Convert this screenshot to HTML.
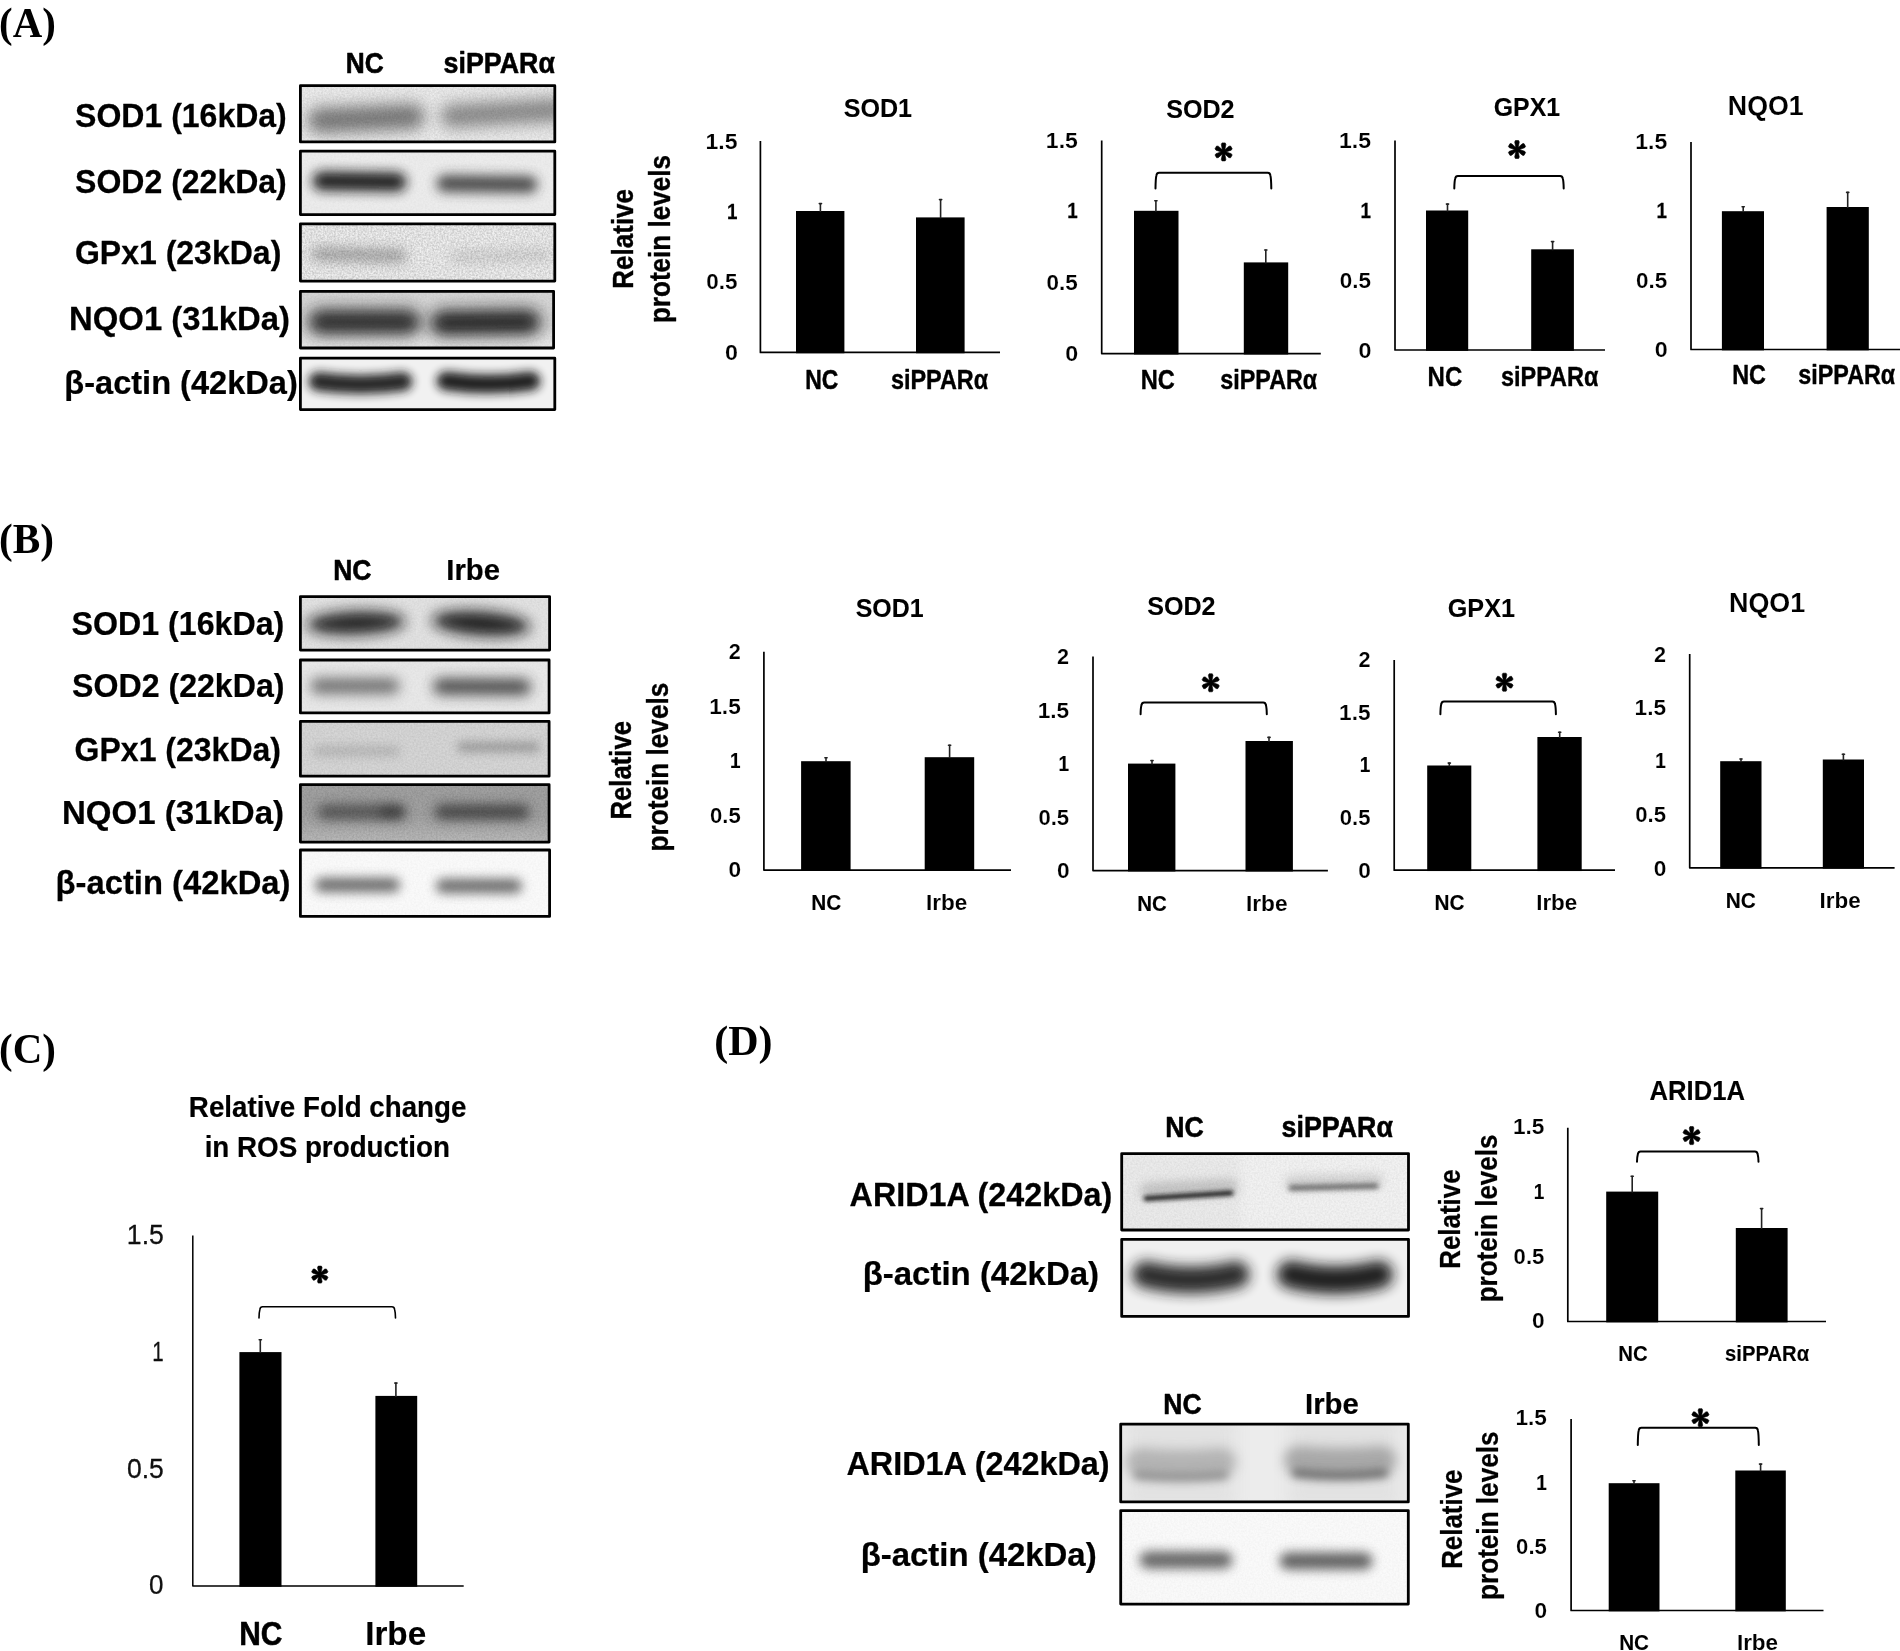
<!DOCTYPE html>
<html><head><meta charset="utf-8"><title>Figure</title>
<style>html,body{margin:0;padding:0;background:#fff;}svg{display:block;will-change:transform;}</style>
</head><body>
<svg width="1900" height="1651" viewBox="0 0 1900 1651">
<rect width="1900" height="1651" fill="#fff"/>
<defs><filter id="b1" x="-30%" y="-300%" width="160%" height="700%"><feGaussianBlur stdDeviation="1"/></filter><filter id="b2" x="-30%" y="-300%" width="160%" height="700%"><feGaussianBlur stdDeviation="2"/></filter><filter id="b3" x="-30%" y="-300%" width="160%" height="700%"><feGaussianBlur stdDeviation="3"/></filter><filter id="b4" x="-30%" y="-300%" width="160%" height="700%"><feGaussianBlur stdDeviation="4"/></filter><filter id="b5" x="-30%" y="-300%" width="160%" height="700%"><feGaussianBlur stdDeviation="5"/></filter><filter id="b6" x="-30%" y="-300%" width="160%" height="700%"><feGaussianBlur stdDeviation="6"/></filter><filter id="b7" x="-30%" y="-300%" width="160%" height="700%"><feGaussianBlur stdDeviation="7"/></filter><filter id="b8" x="-30%" y="-300%" width="160%" height="700%"><feGaussianBlur stdDeviation="8"/></filter><filter id="noise" x="0" y="0" width="100%" height="100%"><feTurbulence type="fractalNoise" baseFrequency="0.55" numOctaves="2" seed="3" result="n"/><feColorMatrix type="matrix" values="0 0 0 0 0  0 0 0 0 0  0 0 0 0 0  1.6 0 0 0 -0.45"/></filter><linearGradient id="gB4" x1="0" y1="0" x2="0" y2="1"><stop offset="0" stop-color="#c0c0c0" stop-opacity="0"/><stop offset="1" stop-color="#c0c0c0" stop-opacity="0.9"/></linearGradient><linearGradient id="gA4" x1="0" y1="0" x2="0" y2="1"><stop offset="0" stop-color="#ededed" stop-opacity="0"/><stop offset="1" stop-color="#ededed" stop-opacity="0.9"/></linearGradient></defs>
<clipPath id="c1"><rect x="300.4" y="85.7" width="254.40" height="56.20"/></clipPath>
<g clip-path="url(#c1)"><rect x="300.4" y="85.7" width="254.40" height="56.20" fill="#ececec"/><filter id="f1" filterUnits="userSpaceOnUse" x="272.5" y="69.0" width="187.0" height="99.0"><feGaussianBlur stdDeviation="7.5 7.5"/></filter><path d="M320,120.5 Q366.0,118.5 412,116.5" fill="none" stroke="#686868" stroke-width="25" stroke-linecap="round" opacity="0.85" filter="url(#f1)"/><filter id="f2" filterUnits="userSpaceOnUse" x="406.5" y="64.5" width="195.0" height="97.0"><feGaussianBlur stdDeviation="7.5 7.5"/></filter><path d="M452,116 Q504.0,113.0 556,110" fill="none" stroke="#747474" stroke-width="23" stroke-linecap="round" opacity="0.8" filter="url(#f2)"/><rect x="300.4" y="85.7" width="254.40" height="56.20" filter="url(#noise)" opacity="0.1"/></g>
<rect x="300.4" y="85.7" width="254.40" height="56.20" fill="none" stroke="#000" stroke-width="2.8" stroke-linejoin="round"/>
<clipPath id="c2"><rect x="300.4" y="151.20000000000002" width="254.40" height="63.40"/></clipPath>
<g clip-path="url(#c2)"><rect x="300.4" y="151.20000000000002" width="254.40" height="63.40" fill="#ececec"/><filter id="f3" filterUnits="userSpaceOnUse" x="285.0" y="144.0" width="149.0" height="75.0"><feGaussianBlur stdDeviation="6 6"/></filter><path d="M322,181 Q359.5,181.5 397,182" fill="none" stroke="#161616" stroke-width="19" stroke-linecap="round" opacity="0.95" filter="url(#f3)"/><filter id="f4" filterUnits="userSpaceOnUse" x="410.0" y="148.5" width="154.0" height="71.0"><feGaussianBlur stdDeviation="6 6"/></filter><path d="M445,183.5 Q487.0,184.0 529,184.5" fill="none" stroke="#333" stroke-width="17" stroke-linecap="round" opacity="0.85" filter="url(#f4)"/><rect x="300.4" y="151.20000000000002" width="254.40" height="63.40" filter="url(#noise)" opacity="0.03"/></g>
<rect x="300.4" y="151.20000000000002" width="254.40" height="63.40" fill="none" stroke="#000" stroke-width="2.8" stroke-linejoin="round"/>
<clipPath id="c3"><rect x="300.4" y="223.8" width="254.40" height="57.30"/></clipPath>
<g clip-path="url(#c3)"><rect x="300.4" y="223.8" width="254.40" height="57.30" fill="#f0f0f0"/><filter id="f5" filterUnits="userSpaceOnUse" x="287.0" y="223.0" width="144.0" height="64.0"><feGaussianBlur stdDeviation="6 6"/></filter><path d="M318,254 Q359.0,255.0 400,256" fill="none" stroke="#707070" stroke-width="13" stroke-linecap="round" opacity="0.55" filter="url(#f5)"/><filter id="f6" filterUnits="userSpaceOnUse" x="427.0" y="227.0" width="146.0" height="58.0"><feGaussianBlur stdDeviation="6 6"/></filter><path d="M455,257 Q500.0,256.0 545,255" fill="none" stroke="#999" stroke-width="10" stroke-linecap="round" opacity="0.35" filter="url(#f6)"/><rect x="300.4" y="223.8" width="254.40" height="57.30" filter="url(#noise)" opacity="0.2"/></g>
<rect x="300.4" y="223.8" width="254.40" height="57.30" fill="none" stroke="#000" stroke-width="2.8" stroke-linejoin="round"/>
<clipPath id="c4"><rect x="300.4" y="291.29999999999995" width="253.20" height="56.70"/></clipPath>
<g clip-path="url(#c4)"><rect x="300.4" y="291.29999999999995" width="253.20" height="56.70" fill="#d6d6d6"/><rect x="299" y="325" width="258" height="26" fill="url(#gA4)"/><filter id="f7" filterUnits="userSpaceOnUse" x="273.5" y="274.5" width="182.0" height="95.0"><feGaussianBlur stdDeviation="7.5 7.5"/></filter><path d="M321,322 Q364.5,322.0 408,322" fill="none" stroke="#222" stroke-width="25" stroke-linecap="round" opacity="0.93" filter="url(#f7)"/><filter id="f8" filterUnits="userSpaceOnUse" x="395.5" y="274.5" width="180.0" height="96.0"><feGaussianBlur stdDeviation="7.5 7.5"/></filter><path d="M443,323 Q485.5,322.5 528,322" fill="none" stroke="#1c1c1c" stroke-width="25" stroke-linecap="round" opacity="0.94" filter="url(#f8)"/><rect x="300.4" y="291.29999999999995" width="253.20" height="56.70" filter="url(#noise)" opacity="0.06"/></g>
<rect x="300.4" y="291.29999999999995" width="253.20" height="56.70" fill="none" stroke="#000" stroke-width="2.8" stroke-linejoin="round"/>
<clipPath id="c5"><rect x="300.4" y="358.2" width="254.40" height="51.40"/></clipPath>
<g clip-path="url(#c5)"><rect x="300.4" y="358.2" width="254.40" height="51.40" fill="#f1f1f1"/><filter id="f9" filterUnits="userSpaceOnUse" x="284.0" y="347.5" width="153.0" height="74.0"><feGaussianBlur stdDeviation="5 5"/></filter><path d="M318,381.5 Q360.5,387.5 403,381.5" fill="none" stroke="#1c1c1c" stroke-width="19" stroke-linecap="round" opacity="0.95" filter="url(#f9)"/><filter id="f10" filterUnits="userSpaceOnUse" x="412.0" y="347.0" width="153.0" height="74.0"><feGaussianBlur stdDeviation="5 5"/></filter><path d="M446,381 Q488.5,387.0 531,381" fill="none" stroke="#181818" stroke-width="19" stroke-linecap="round" opacity="0.95" filter="url(#f10)"/></g>
<rect x="300.4" y="358.2" width="254.40" height="51.40" fill="none" stroke="#000" stroke-width="2.8" stroke-linejoin="round"/>
<polyline points="760.4,141 760.4,352.4 1000,352.4" fill="none" stroke="#000" stroke-width="1.7" stroke-linejoin="round"/>
<rect x="796" y="211" width="48.40" height="142.25" fill="#000"/>
<rect x="916" y="217.4" width="48.60" height="135.85" fill="#000"/>
<line x1="820.4" y1="203" x2="820.4" y2="212" stroke="#222" stroke-width="1.6"/>
<line x1="819.3" y1="203.6" x2="821.5" y2="203.6" stroke="#222" stroke-width="1.6" stroke-linecap="round"/>
<line x1="940.6" y1="199" x2="940.6" y2="218.4" stroke="#222" stroke-width="1.6"/>
<line x1="939.5" y1="199.6" x2="941.7" y2="199.6" stroke="#222" stroke-width="1.6" stroke-linecap="round"/>
<polyline points="1101.7,140.4 1101.7,353.6 1320.8,353.6" fill="none" stroke="#000" stroke-width="1.7" stroke-linejoin="round"/>
<rect x="1134" y="210.8" width="44.50" height="143.65" fill="#000"/>
<rect x="1243.8" y="262.4" width="44.40" height="92.05" fill="#000"/>
<line x1="1155.9" y1="200.2" x2="1155.9" y2="211.8" stroke="#222" stroke-width="1.6"/>
<line x1="1154.8000000000002" y1="200.79999999999998" x2="1157.0" y2="200.79999999999998" stroke="#222" stroke-width="1.6" stroke-linecap="round"/>
<line x1="1265.8" y1="249.4" x2="1265.8" y2="263.4" stroke="#222" stroke-width="1.6"/>
<line x1="1264.7" y1="250.0" x2="1266.8999999999999" y2="250.0" stroke="#222" stroke-width="1.6" stroke-linecap="round"/>
<path d="M1155.5,188.4 C1155.6,180.60000000000002 1156.0,176.8 1156.4,175.4 Q1156.8,172.8 1159.1,172.8 L1267.7,172.8 Q1270.0,172.8 1270.3999999999999,175.4 C1270.8,176.8 1271.2,180.60000000000002 1271.3,188.4" fill="none" stroke="#000" stroke-width="2.0" stroke-linecap="round" stroke-linejoin="round"/>
<path d="M1224.50,151.40 L1225.90,144.40 L1225.21,142.90 L1221.99,142.90 L1221.30,144.40 L1222.70,151.40Z M1223.62,150.87 L1218.25,146.16 L1216.61,146.01 L1215.00,148.79 L1215.95,150.14 L1222.72,152.43Z M1222.72,151.37 L1215.95,153.66 L1215.00,155.01 L1216.61,157.79 L1218.25,157.64 L1223.62,152.93Z M1222.70,152.40 L1221.30,159.40 L1221.99,160.90 L1225.21,160.90 L1225.90,159.40 L1224.50,152.40Z M1223.58,152.93 L1228.95,157.64 L1230.59,157.79 L1232.20,155.01 L1231.25,153.66 L1224.48,151.37Z M1224.48,152.43 L1231.25,150.14 L1232.20,148.79 L1230.59,146.01 L1228.95,146.16 L1223.58,150.87Z" fill="#000" stroke="#000" stroke-width="0.6" stroke-linejoin="round"/>
<circle cx="1223.6" cy="151.9" r="1.6" fill="#000"/>
<polyline points="1395,140.4 1395,350 1605,350" fill="none" stroke="#000" stroke-width="1.7" stroke-linejoin="round"/>
<rect x="1426" y="210.5" width="42.20" height="140.35" fill="#000"/>
<rect x="1531.2" y="249.3" width="42.70" height="101.55" fill="#000"/>
<line x1="1447.5" y1="203.5" x2="1447.5" y2="211.5" stroke="#222" stroke-width="1.6"/>
<line x1="1446.4" y1="204.1" x2="1448.6" y2="204.1" stroke="#222" stroke-width="1.6" stroke-linecap="round"/>
<line x1="1552.6" y1="241" x2="1552.6" y2="250.3" stroke="#222" stroke-width="1.6"/>
<line x1="1551.5" y1="241.6" x2="1553.6999999999998" y2="241.6" stroke="#222" stroke-width="1.6" stroke-linecap="round"/>
<path d="M1454.3,188.4 C1454.3999999999999,182.15 1454.8,179.9 1455.2,178.5 Q1455.6,175.9 1457.8999999999999,175.9 L1560.1000000000001,175.9 Q1562.4,175.9 1562.8,178.5 C1563.2,179.9 1563.6000000000001,182.15 1563.7,188.4" fill="none" stroke="#000" stroke-width="2.0" stroke-linecap="round" stroke-linejoin="round"/>
<path d="M1517.90,149.00 L1519.30,142.00 L1518.61,140.50 L1515.39,140.50 L1514.70,142.00 L1516.10,149.00Z M1517.02,148.47 L1511.65,143.76 L1510.01,143.61 L1508.40,146.39 L1509.35,147.74 L1516.12,150.03Z M1516.12,148.97 L1509.35,151.26 L1508.40,152.61 L1510.01,155.39 L1511.65,155.24 L1517.02,150.53Z M1516.10,150.00 L1514.70,157.00 L1515.39,158.50 L1518.61,158.50 L1519.30,157.00 L1517.90,150.00Z M1516.98,150.53 L1522.35,155.24 L1523.99,155.39 L1525.60,152.61 L1524.65,151.26 L1517.88,148.97Z M1517.88,150.03 L1524.65,147.74 L1525.60,146.39 L1523.99,143.61 L1522.35,143.76 L1516.98,148.47Z" fill="#000" stroke="#000" stroke-width="0.6" stroke-linejoin="round"/>
<circle cx="1517" cy="149.5" r="1.6" fill="#000"/>
<polyline points="1691,142 1691,349.5 1900,349.5" fill="none" stroke="#000" stroke-width="1.7" stroke-linejoin="round"/>
<rect x="1721.9" y="211.2" width="42.10" height="139.15" fill="#000"/>
<rect x="1826.6" y="207" width="42.20" height="143.35" fill="#000"/>
<line x1="1743.2" y1="206.2" x2="1743.2" y2="212.2" stroke="#222" stroke-width="1.6"/>
<line x1="1742.1000000000001" y1="206.79999999999998" x2="1744.3" y2="206.79999999999998" stroke="#222" stroke-width="1.6" stroke-linecap="round"/>
<line x1="1847.7" y1="191.8" x2="1847.7" y2="208" stroke="#222" stroke-width="1.6"/>
<line x1="1846.6000000000001" y1="192.4" x2="1848.8" y2="192.4" stroke="#222" stroke-width="1.6" stroke-linecap="round"/>
<clipPath id="c6"><rect x="300.4" y="596.6" width="249.20" height="53.50"/></clipPath>
<g clip-path="url(#c6)"><rect x="300.4" y="596.6" width="249.20" height="53.50" fill="#e2e2e2"/><filter id="f11" filterUnits="userSpaceOnUse" x="282.0" y="571.8" width="148.0" height="102.4"><feGaussianBlur stdDeviation="7"/></filter><ellipse cx="356" cy="623" rx="49" ry="11.5" fill="#161616" opacity="0.93" transform="rotate(-2 356 623)" filter="url(#f11)"/><filter id="f12" filterUnits="userSpaceOnUse" x="407.0" y="571.8" width="148.0" height="103.4"><feGaussianBlur stdDeviation="7"/></filter><ellipse cx="481" cy="623.5" rx="49" ry="12" fill="#121212" opacity="0.94" transform="rotate(4 481 623.5)" filter="url(#f12)"/><rect x="300.4" y="596.6" width="249.20" height="53.50" filter="url(#noise)" opacity="0.05"/></g>
<rect x="300.4" y="596.6" width="249.20" height="53.50" fill="none" stroke="#000" stroke-width="2.8" stroke-linejoin="round"/>
<clipPath id="c7"><rect x="300.4" y="660.0" width="248.70" height="52.90"/></clipPath>
<g clip-path="url(#c7)"><rect x="300.4" y="660.0" width="248.70" height="52.90" fill="#e8e8e8"/><filter id="f13" filterUnits="userSpaceOnUse" x="283.5" y="651.5" width="143.0" height="69.0"><feGaussianBlur stdDeviation="6.5 6.5"/></filter><path d="M318,686 Q355.0,686.0 392,686" fill="none" stroke="#505050" stroke-width="15" stroke-linecap="round" opacity="0.8" filter="url(#f13)"/><filter id="f14" filterUnits="userSpaceOnUse" x="405.5" y="651.0" width="153.0" height="71.5"><feGaussianBlur stdDeviation="6.5 6.5"/></filter><path d="M441,686.5 Q482.0,686.75 523,687" fill="none" stroke="#303030" stroke-width="16" stroke-linecap="round" opacity="0.85" filter="url(#f14)"/><rect x="300.4" y="660.0" width="248.70" height="52.90" filter="url(#noise)" opacity="0.03"/></g>
<rect x="300.4" y="660.0" width="248.70" height="52.90" fill="none" stroke="#000" stroke-width="2.8" stroke-linejoin="round"/>
<clipPath id="c8"><rect x="300.4" y="721.4" width="248.70" height="54.80"/></clipPath>
<g clip-path="url(#c8)"><rect x="300.4" y="721.4" width="248.70" height="54.80" fill="#d6d6d6"/><filter id="f15" filterUnits="userSpaceOnUse" x="293.0" y="726.0" width="127.0" height="50.0"><feGaussianBlur stdDeviation="5 5"/></filter><path d="M318,751 Q356.5,751.0 395,751" fill="none" stroke="#999" stroke-width="10" stroke-linecap="round" opacity="0.5" filter="url(#f15)"/><filter id="f16" filterUnits="userSpaceOnUse" x="437.0" y="722.0" width="123.0" height="50.0"><feGaussianBlur stdDeviation="5 5"/></filter><path d="M462,747 Q498.5,747.0 535,747" fill="none" stroke="#808080" stroke-width="10" stroke-linecap="round" opacity="0.65" filter="url(#f16)"/><rect x="300.4" y="721.4" width="248.70" height="54.80" filter="url(#noise)" opacity="0.08"/></g>
<rect x="300.4" y="721.4" width="248.70" height="54.80" fill="none" stroke="#000" stroke-width="2.8" stroke-linejoin="round"/>
<clipPath id="c9"><rect x="300.4" y="784.6" width="248.70" height="57.50"/></clipPath>
<g clip-path="url(#c9)"><rect x="300.4" y="784.6" width="248.70" height="57.50" fill="#a2a2a2"/><rect x="299" y="815" width="253" height="30" fill="url(#gB4)"/><filter id="f17" filterUnits="userSpaceOnUse" x="292.0" y="779.0" width="139.0" height="66.0"><feGaussianBlur stdDeviation="6 6"/></filter><path d="M325,812 Q361.5,812.0 398,812" fill="none" stroke="#444" stroke-width="15" stroke-linecap="round" opacity="0.8" filter="url(#f17)"/><filter id="f18" filterUnits="userSpaceOnUse" x="358.0" y="785.0" width="67.0" height="54.0"><feGaussianBlur stdDeviation="5 5"/></filter><path d="M385,812 Q391.5,812.0 398,812" fill="none" stroke="#333" stroke-width="12" stroke-linecap="round" opacity="0.5" filter="url(#f18)"/><filter id="f19" filterUnits="userSpaceOnUse" x="409.0" y="779.0" width="146.0" height="66.0"><feGaussianBlur stdDeviation="6 6"/></filter><path d="M442,812 Q482.0,812.0 522,812" fill="none" stroke="#3a3a3a" stroke-width="15" stroke-linecap="round" opacity="0.85" filter="url(#f19)"/><rect x="300.4" y="784.6" width="248.70" height="57.50" filter="url(#noise)" opacity="0.12"/></g>
<rect x="300.4" y="784.6" width="248.70" height="57.50" fill="none" stroke="#000" stroke-width="2.8" stroke-linejoin="round"/>
<clipPath id="c10"><rect x="300.4" y="850.0" width="249.20" height="66.40"/></clipPath>
<g clip-path="url(#c10)"><rect x="300.4" y="850.0" width="249.20" height="66.40" fill="#fafafa"/><filter id="f20" filterUnits="userSpaceOnUse" x="291.5" y="854.5" width="132.0" height="61.0"><feGaussianBlur stdDeviation="5.5 5.5"/></filter><path d="M322,885 Q357.5,885.0 393,885" fill="none" stroke="#484848" stroke-width="14" stroke-linecap="round" opacity="0.8" filter="url(#f20)"/><filter id="f21" filterUnits="userSpaceOnUse" x="412.5" y="855.5" width="133.0" height="61.0"><feGaussianBlur stdDeviation="5.5 5.5"/></filter><path d="M443,886 Q479.0,886.0 515,886" fill="none" stroke="#484848" stroke-width="14" stroke-linecap="round" opacity="0.8" filter="url(#f21)"/><rect x="300.4" y="850.0" width="249.20" height="66.40" filter="url(#noise)" opacity="0.03"/></g>
<rect x="300.4" y="850.0" width="249.20" height="66.40" fill="none" stroke="#000" stroke-width="2.8" stroke-linejoin="round"/>
<polyline points="763.9,651.8 763.9,870.1 1011,870.1" fill="none" stroke="#000" stroke-width="1.7" stroke-linejoin="round"/>
<rect x="801.1" y="761.2" width="49.50" height="109.75" fill="#000"/>
<rect x="924.7" y="757.2" width="49.50" height="113.75" fill="#000"/>
<line x1="826" y1="757.2" x2="826" y2="762.2" stroke="#222" stroke-width="1.6"/>
<line x1="824.9" y1="757.8000000000001" x2="827.1" y2="757.8000000000001" stroke="#222" stroke-width="1.6" stroke-linecap="round"/>
<line x1="949.6" y1="744.6" x2="949.6" y2="758.2" stroke="#222" stroke-width="1.6"/>
<line x1="948.5" y1="745.2" x2="950.7" y2="745.2" stroke="#222" stroke-width="1.6" stroke-linecap="round"/>
<polyline points="1093,656.5 1093,870.6 1327.9,870.6" fill="none" stroke="#000" stroke-width="1.7" stroke-linejoin="round"/>
<rect x="1128" y="763.6" width="47.40" height="107.85" fill="#000"/>
<rect x="1245.5" y="741" width="47.40" height="130.45" fill="#000"/>
<line x1="1152" y1="760" x2="1152" y2="764.6" stroke="#222" stroke-width="1.6"/>
<line x1="1150.9" y1="760.6" x2="1153.1" y2="760.6" stroke="#222" stroke-width="1.6" stroke-linecap="round"/>
<line x1="1269" y1="736.8" x2="1269" y2="742" stroke="#222" stroke-width="1.6"/>
<line x1="1267.9" y1="737.4" x2="1270.1" y2="737.4" stroke="#222" stroke-width="1.6" stroke-linecap="round"/>
<path d="M1140.6,714.3 C1140.6999999999998,708.4 1141.1,706.5 1141.5,705.1 Q1141.8999999999999,702.5 1144.1999999999998,702.5 L1263.2,702.5 Q1265.5,702.5 1265.8999999999999,705.1 C1266.3,706.5 1266.7,708.4 1266.8,714.3" fill="none" stroke="#000" stroke-width="2.0" stroke-linecap="round" stroke-linejoin="round"/>
<path d="M1211.60,682.30 L1213.00,675.30 L1212.31,673.80 L1209.09,673.80 L1208.40,675.30 L1209.80,682.30Z M1210.72,681.77 L1205.35,677.06 L1203.71,676.91 L1202.10,679.69 L1203.05,681.04 L1209.82,683.33Z M1209.82,682.27 L1203.05,684.56 L1202.10,685.91 L1203.71,688.69 L1205.35,688.54 L1210.72,683.83Z M1209.80,683.30 L1208.40,690.30 L1209.09,691.80 L1212.31,691.80 L1213.00,690.30 L1211.60,683.30Z M1210.68,683.83 L1216.05,688.54 L1217.69,688.69 L1219.30,685.91 L1218.35,684.56 L1211.58,682.27Z M1211.58,683.33 L1218.35,681.04 L1219.30,679.69 L1217.69,676.91 L1216.05,677.06 L1210.68,681.77Z" fill="#000" stroke="#000" stroke-width="0.6" stroke-linejoin="round"/>
<circle cx="1210.7" cy="682.8" r="1.6" fill="#000"/>
<polyline points="1394.2,660 1394.2,870.2 1615,870.2" fill="none" stroke="#000" stroke-width="1.7" stroke-linejoin="round"/>
<rect x="1427.2" y="765.5" width="44.10" height="105.55" fill="#000"/>
<rect x="1537.4" y="737" width="44.30" height="134.05" fill="#000"/>
<line x1="1449.3" y1="762.5" x2="1449.3" y2="766.5" stroke="#222" stroke-width="1.6"/>
<line x1="1448.2" y1="763.1" x2="1450.3999999999999" y2="763.1" stroke="#222" stroke-width="1.6" stroke-linecap="round"/>
<line x1="1559.7" y1="731.6" x2="1559.7" y2="738" stroke="#222" stroke-width="1.6"/>
<line x1="1558.6000000000001" y1="732.2" x2="1560.8" y2="732.2" stroke="#222" stroke-width="1.6" stroke-linecap="round"/>
<path d="M1440.4,714.3 C1440.5,707.9 1440.9,705.5 1441.3000000000002,704.1 Q1441.7,701.5 1444.0,701.5 L1552.3000000000002,701.5 Q1554.6000000000001,701.5 1555.0,704.1 C1555.4,705.5 1555.8000000000002,707.9 1555.9,714.3" fill="none" stroke="#000" stroke-width="2.0" stroke-linecap="round" stroke-linejoin="round"/>
<path d="M1505.40,681.70 L1506.80,674.70 L1506.11,673.20 L1502.89,673.20 L1502.20,674.70 L1503.60,681.70Z M1504.52,681.17 L1499.15,676.46 L1497.51,676.31 L1495.90,679.09 L1496.85,680.44 L1503.62,682.73Z M1503.62,681.67 L1496.85,683.96 L1495.90,685.31 L1497.51,688.09 L1499.15,687.94 L1504.52,683.23Z M1503.60,682.70 L1502.20,689.70 L1502.89,691.20 L1506.11,691.20 L1506.80,689.70 L1505.40,682.70Z M1504.48,683.23 L1509.85,687.94 L1511.49,688.09 L1513.10,685.31 L1512.15,683.96 L1505.38,681.67Z M1505.38,682.73 L1512.15,680.44 L1513.10,679.09 L1511.49,676.31 L1509.85,676.46 L1504.48,681.17Z" fill="#000" stroke="#000" stroke-width="0.6" stroke-linejoin="round"/>
<circle cx="1504.5" cy="682.2" r="1.6" fill="#000"/>
<polyline points="1689.7,654.1 1689.7,867.8 1894.6,867.8" fill="none" stroke="#000" stroke-width="1.7" stroke-linejoin="round"/>
<rect x="1720.2" y="761.2" width="41.30" height="107.45" fill="#000"/>
<rect x="1822.8" y="759.5" width="41.20" height="109.15" fill="#000"/>
<line x1="1741" y1="758.4" x2="1741" y2="762.2" stroke="#222" stroke-width="1.6"/>
<line x1="1739.9" y1="759.0" x2="1742.1" y2="759.0" stroke="#222" stroke-width="1.6" stroke-linecap="round"/>
<line x1="1843.4" y1="753.6" x2="1843.4" y2="760.5" stroke="#222" stroke-width="1.6"/>
<line x1="1842.3000000000002" y1="754.2" x2="1844.5" y2="754.2" stroke="#222" stroke-width="1.6" stroke-linecap="round"/>
<polyline points="192.8,1235.4 192.8,1586 463.7,1586" fill="none" stroke="#000" stroke-width="1.5" stroke-linejoin="round"/>
<rect x="239.4" y="1352.1" width="42.10" height="234.65" fill="#000"/>
<rect x="375.4" y="1395.9" width="41.80" height="190.85" fill="#000"/>
<line x1="260.3" y1="1339.1" x2="260.3" y2="1353.1" stroke="#222" stroke-width="1.6"/>
<line x1="259.2" y1="1339.6999999999998" x2="261.40000000000003" y2="1339.6999999999998" stroke="#222" stroke-width="1.6" stroke-linecap="round"/>
<line x1="395.9" y1="1382.5" x2="395.9" y2="1396.9" stroke="#222" stroke-width="1.6"/>
<line x1="394.79999999999995" y1="1383.1" x2="397.0" y2="1383.1" stroke="#222" stroke-width="1.6" stroke-linecap="round"/>
<path d="M259,1318.0 C259.1,1312.4 259.5,1310.8 259.9,1309.3999999999999 Q260.3,1306.8 262.6,1306.8 L391.9,1306.8 Q394.2,1306.8 394.6,1309.3999999999999 C395.0,1310.8 395.4,1312.4 395.5,1318.0" fill="none" stroke="#000" stroke-width="1.6" stroke-linecap="round" stroke-linejoin="round"/>
<path d="M320.70,1274.10 L322.10,1267.60 L321.41,1266.10 L318.19,1266.10 L317.50,1267.60 L318.90,1274.10Z M319.82,1273.57 L314.89,1269.11 L313.24,1268.96 L311.63,1271.74 L312.59,1273.09 L318.92,1275.13Z M318.92,1274.07 L312.59,1276.11 L311.63,1277.46 L313.24,1280.24 L314.89,1280.09 L319.82,1275.63Z M318.90,1275.10 L317.50,1281.60 L318.19,1283.10 L321.41,1283.10 L322.10,1281.60 L320.70,1275.10Z M319.78,1275.63 L324.71,1280.09 L326.36,1280.24 L327.97,1277.46 L327.01,1276.11 L320.68,1274.07Z M320.68,1275.13 L327.01,1273.09 L327.97,1271.74 L326.36,1268.96 L324.71,1269.11 L319.78,1273.57Z" fill="#000" stroke="#000" stroke-width="0.6" stroke-linejoin="round"/>
<circle cx="319.8" cy="1274.6" r="1.6" fill="#000"/>
<clipPath id="c11"><rect x="1121.7" y="1153.6000000000001" width="286.80" height="76.40"/></clipPath>
<g clip-path="url(#c11)"><rect x="1121.7" y="1153.6000000000001" width="286.80" height="76.40" fill="#f2f2f2"/><rect x="1122" y="1153" width="118" height="78" fill="#e6e6e6" opacity="0.6" filter="url(#b4)"/><filter id="f22" filterUnits="userSpaceOnUse" x="1117.0" y="1156.0" width="144.0" height="66.0"><feGaussianBlur stdDeviation="5 5"/></filter><path d="M1148,1191 Q1189.0,1189.0 1230,1187" fill="none" stroke="#aaa" stroke-width="16" stroke-linecap="round" opacity="0.6" filter="url(#f22)"/><filter id="f23" filterUnits="userSpaceOnUse" x="1134.4" y="1181.4" width="108.2" height="28.7"><feGaussianBlur stdDeviation="2.2 2.2"/></filter><path d="M1146,1198.5 Q1188.5,1195.75 1231,1193" fill="none" stroke="#161616" stroke-width="5" stroke-linecap="round" opacity="0.95" filter="url(#f23)"/><filter id="f24" filterUnits="userSpaceOnUse" x="1263.0" y="1152.0" width="142.0" height="60.0"><feGaussianBlur stdDeviation="5 5"/></filter><path d="M1292,1183 Q1334.0,1182.0 1376,1181" fill="none" stroke="#bbb" stroke-width="14" stroke-linecap="round" opacity="0.6" filter="url(#f24)"/><filter id="f25" filterUnits="userSpaceOnUse" x="1278.8" y="1173.8" width="109.4" height="26.4"><feGaussianBlur stdDeviation="2.4 2.4"/></filter><path d="M1291,1188 Q1333.5,1187.0 1376,1186" fill="none" stroke="#555" stroke-width="5" stroke-linecap="round" opacity="0.9" filter="url(#f25)"/><rect x="1121.7" y="1153.6000000000001" width="286.80" height="76.40" filter="url(#noise)" opacity="0.06"/></g>
<rect x="1121.7" y="1153.6000000000001" width="286.80" height="76.40" fill="none" stroke="#000" stroke-width="2.8" stroke-linejoin="round"/>
<clipPath id="c12"><rect x="1121.7" y="1239.3000000000002" width="286.80" height="77.10"/></clipPath>
<g clip-path="url(#c12)"><rect x="1121.7" y="1239.3000000000002" width="286.80" height="77.10" fill="#f0f0f0"/><filter id="f26" filterUnits="userSpaceOnUse" x="1099.5" y="1228.0" width="183.0" height="104.0"><feGaussianBlur stdDeviation="6.5 6.5"/></filter><path d="M1146,1274.5 Q1191.0,1285.5 1236,1274.5" fill="none" stroke="#202020" stroke-width="27" stroke-linecap="round" opacity="0.95" filter="url(#f26)"/><filter id="f27" filterUnits="userSpaceOnUse" x="1243.5" y="1227.0" width="183.0" height="106.0"><feGaussianBlur stdDeviation="6.5 6.5"/></filter><path d="M1291,1274.5 Q1335.0,1285.5 1379,1274.5" fill="none" stroke="#161616" stroke-width="28" stroke-linecap="round" opacity="0.95" filter="url(#f27)"/></g>
<rect x="1121.7" y="1239.3000000000002" width="286.80" height="77.10" fill="none" stroke="#000" stroke-width="2.8" stroke-linejoin="round"/>
<clipPath id="c13"><rect x="1120.7" y="1424.1000000000001" width="287.60" height="77.80"/></clipPath>
<g clip-path="url(#c13)"><rect x="1120.7" y="1424.1000000000001" width="287.60" height="77.80" fill="#ececec"/><rect x="1126" y="1415" width="110" height="95" fill="#d8d8d8" opacity="0.45" filter="url(#b8)"/><rect x="1288" y="1415" width="112" height="95" fill="#d8d8d8" opacity="0.45" filter="url(#b8)"/><filter id="f28" filterUnits="userSpaceOnUse" x="1094.0" y="1416.0" width="174.0" height="96.0"><feGaussianBlur stdDeviation="6 6"/></filter><path d="M1140,1462 Q1181.0,1466.0 1222,1462" fill="none" stroke="#a0a0a0" stroke-width="28" stroke-linecap="round" opacity="0.7" filter="url(#f28)"/><filter id="f29" filterUnits="userSpaceOnUse" x="1117.0" y="1454.0" width="128.0" height="46.0"><feGaussianBlur stdDeviation="4 4"/></filter><path d="M1138,1475 Q1181.0,1479.0 1224,1475" fill="none" stroke="#808080" stroke-width="9" stroke-linecap="round" opacity="0.75" filter="url(#f29)"/><filter id="f30" filterUnits="userSpaceOnUse" x="1252.0" y="1414.0" width="176.0" height="96.0"><feGaussianBlur stdDeviation="6 6"/></filter><path d="M1298,1460 Q1340.0,1464.0 1382,1460" fill="none" stroke="#909090" stroke-width="28" stroke-linecap="round" opacity="0.7" filter="url(#f30)"/><filter id="f31" filterUnits="userSpaceOnUse" x="1275.0" y="1452.0" width="130.0" height="47.0"><feGaussianBlur stdDeviation="4 4"/></filter><path d="M1296,1473 Q1340.0,1478.0 1384,1473" fill="none" stroke="#5a5a5a" stroke-width="9" stroke-linecap="round" opacity="0.8" filter="url(#f31)"/></g>
<rect x="1120.7" y="1424.1000000000001" width="287.60" height="77.80" fill="none" stroke="#000" stroke-width="2.8" stroke-linejoin="round"/>
<clipPath id="c14"><rect x="1120.7" y="1510.6000000000001" width="287.60" height="93.50"/></clipPath>
<g clip-path="url(#c14)"><rect x="1120.7" y="1510.6000000000001" width="287.60" height="93.50" fill="#fafafa"/><filter id="f32" filterUnits="userSpaceOnUse" x="1114.5" y="1526.5" width="143.0" height="67.0"><feGaussianBlur stdDeviation="5.5 5.5"/></filter><path d="M1148,1560 Q1186.0,1560.0 1224,1560" fill="none" stroke="#505050" stroke-width="17" stroke-linecap="round" opacity="0.85" filter="url(#f32)"/><filter id="f33" filterUnits="userSpaceOnUse" x="1254.5" y="1527.5" width="143.0" height="67.0"><feGaussianBlur stdDeviation="5.5 5.5"/></filter><path d="M1288,1561 Q1326.0,1561.0 1364,1561" fill="none" stroke="#4a4a4a" stroke-width="17" stroke-linecap="round" opacity="0.85" filter="url(#f33)"/><rect x="1120.7" y="1510.6000000000001" width="287.60" height="93.50" filter="url(#noise)" opacity="0.03"/></g>
<rect x="1120.7" y="1510.6000000000001" width="287.60" height="93.50" fill="none" stroke="#000" stroke-width="2.8" stroke-linejoin="round"/>
<polyline points="1567.8,1127.7 1567.8,1321.5 1826,1321.5" fill="none" stroke="#000" stroke-width="1.7" stroke-linejoin="round"/>
<rect x="1606.2" y="1191.6" width="52.00" height="130.75" fill="#000"/>
<rect x="1735.8" y="1228" width="51.80" height="94.35" fill="#000"/>
<line x1="1632.2" y1="1175.7" x2="1632.2" y2="1192.6" stroke="#222" stroke-width="1.6"/>
<line x1="1631.1000000000001" y1="1176.3" x2="1633.3" y2="1176.3" stroke="#222" stroke-width="1.6" stroke-linecap="round"/>
<line x1="1761.6" y1="1208" x2="1761.6" y2="1229" stroke="#222" stroke-width="1.6"/>
<line x1="1760.5" y1="1208.6" x2="1762.6999999999998" y2="1208.6" stroke="#222" stroke-width="1.6" stroke-linecap="round"/>
<path d="M1637,1161.8 C1637.1,1156.65 1637.5,1155.5 1637.9,1154.1 Q1638.3,1151.5 1640.6,1151.5 L1754.9,1151.5 Q1757.2,1151.5 1757.6,1154.1 C1758.0,1155.5 1758.4,1156.65 1758.5,1161.8" fill="none" stroke="#000" stroke-width="2.0" stroke-linecap="round" stroke-linejoin="round"/>
<path d="M1692.50,1135.10 L1693.90,1128.10 L1693.21,1126.60 L1689.99,1126.60 L1689.30,1128.10 L1690.70,1135.10Z M1691.62,1134.57 L1686.25,1129.86 L1684.61,1129.71 L1683.00,1132.49 L1683.95,1133.84 L1690.72,1136.13Z M1690.72,1135.07 L1683.95,1137.36 L1683.00,1138.71 L1684.61,1141.49 L1686.25,1141.34 L1691.62,1136.63Z M1690.70,1136.10 L1689.30,1143.10 L1689.99,1144.60 L1693.21,1144.60 L1693.90,1143.10 L1692.50,1136.10Z M1691.58,1136.63 L1696.95,1141.34 L1698.59,1141.49 L1700.20,1138.71 L1699.25,1137.36 L1692.48,1135.07Z M1692.48,1136.13 L1699.25,1133.84 L1700.20,1132.49 L1698.59,1129.71 L1696.95,1129.86 L1691.58,1134.57Z" fill="#000" stroke="#000" stroke-width="0.6" stroke-linejoin="round"/>
<circle cx="1691.6" cy="1135.6" r="1.6" fill="#000"/>
<polyline points="1571.1,1419 1571.1,1610.5 1823.5,1610.5" fill="none" stroke="#000" stroke-width="1.7" stroke-linejoin="round"/>
<rect x="1608.7" y="1483.2" width="50.80" height="128.15" fill="#000"/>
<rect x="1735.3" y="1470.5" width="50.50" height="140.85" fill="#000"/>
<line x1="1634" y1="1480.1" x2="1634" y2="1484.2" stroke="#222" stroke-width="1.6"/>
<line x1="1632.9" y1="1480.6999999999998" x2="1635.1" y2="1480.6999999999998" stroke="#222" stroke-width="1.6" stroke-linecap="round"/>
<line x1="1760.6" y1="1463.5" x2="1760.6" y2="1471.5" stroke="#222" stroke-width="1.6"/>
<line x1="1759.5" y1="1464.1" x2="1761.6999999999998" y2="1464.1" stroke="#222" stroke-width="1.6" stroke-linecap="round"/>
<path d="M1637.8,1445 C1637.8999999999999,1436.4 1638.3,1431.8 1638.7,1430.3999999999999 Q1639.1,1427.8 1641.3999999999999,1427.8 L1755.2,1427.8 Q1757.5,1427.8 1757.8999999999999,1430.3999999999999 C1758.3,1431.8 1758.7,1436.4 1758.8,1445" fill="none" stroke="#000" stroke-width="2.0" stroke-linecap="round" stroke-linejoin="round"/>
<path d="M1701.30,1417.20 L1702.70,1410.20 L1702.01,1408.70 L1698.79,1408.70 L1698.10,1410.20 L1699.50,1417.20Z M1700.42,1416.67 L1695.05,1411.96 L1693.41,1411.81 L1691.80,1414.59 L1692.75,1415.94 L1699.52,1418.23Z M1699.52,1417.17 L1692.75,1419.46 L1691.80,1420.81 L1693.41,1423.59 L1695.05,1423.44 L1700.42,1418.73Z M1699.50,1418.20 L1698.10,1425.20 L1698.79,1426.70 L1702.01,1426.70 L1702.70,1425.20 L1701.30,1418.20Z M1700.38,1418.73 L1705.75,1423.44 L1707.39,1423.59 L1709.00,1420.81 L1708.05,1419.46 L1701.28,1417.17Z M1701.28,1418.23 L1708.05,1415.94 L1709.00,1414.59 L1707.39,1411.81 L1705.75,1411.96 L1700.38,1416.67Z" fill="#000" stroke="#000" stroke-width="0.6" stroke-linejoin="round"/>
<circle cx="1700.4" cy="1417.7" r="1.6" fill="#000"/>
<text transform="translate(-0.98,37.10) scale(0.9582,1.0)" font-family="'Liberation Serif', serif" font-weight="bold" font-size="42.67" fill="#000">(A)</text>
<text transform="translate(-0.99,553.00) scale(0.9667,1.0)" font-family="'Liberation Serif', serif" font-weight="bold" font-size="42.67" fill="#000">(B)</text>
<text transform="translate(-0.98,1063.00) scale(0.9600,1.0)" font-family="'Liberation Serif', serif" font-weight="bold" font-size="42.67" fill="#000">(C)</text>
<text transform="translate(714.19,1055.30) scale(0.9848,1.0)" font-family="'Liberation Serif', serif" font-weight="bold" font-size="42.67" fill="#000">(D)</text>
<text transform="translate(345.69,73.01) scale(0.8828,1.0)" font-family="'Liberation Sans', sans-serif" font-weight="bold" font-size="29.75" fill="#000" stroke="#000" stroke-width="0.64" stroke-linejoin="round">NC</text>
<text transform="translate(443.57,73.03) scale(0.8994,1.0)" font-family="'Liberation Sans', sans-serif" font-weight="bold" font-size="29.81" fill="#000" stroke="#000" stroke-width="0.57" stroke-linejoin="round">siPPARα</text>
<text transform="translate(75.10,126.72) scale(0.9559,1.0)" font-family="'Liberation Sans', sans-serif" font-weight="bold" font-size="33.49" fill="#000" stroke="#000" stroke-width="0.25" stroke-linejoin="round">SOD1 (16kDa)</text>
<text transform="translate(75.10,193.03) scale(0.9559,1.0)" font-family="'Liberation Sans', sans-serif" font-weight="bold" font-size="33.49" fill="#000" stroke="#000" stroke-width="0.25" stroke-linejoin="round">SOD2 (22kDa)</text>
<text transform="translate(74.89,264.12) scale(0.9565,1.0)" font-family="'Liberation Sans', sans-serif" font-weight="bold" font-size="33.49" fill="#000" stroke="#000" stroke-width="0.25" stroke-linejoin="round">GPx1 (23kDa)</text>
<text transform="translate(69.04,329.82) scale(0.9814,1.0)" font-family="'Liberation Sans', sans-serif" font-weight="bold" font-size="33.49" fill="#000" stroke="#000" stroke-width="0.25" stroke-linejoin="round">NQO1 (31kDa)</text>
<text transform="translate(64.36,393.62) scale(0.9727,1.0)" font-family="'Liberation Sans', sans-serif" font-weight="bold" font-size="33.49" fill="#000" stroke="#000" stroke-width="0.25" stroke-linejoin="round">β-actin (42kDa)</text>
<text transform="translate(633.08,288.69) rotate(-90) scale(0.8722,1.0)" font-family="'Liberation Sans', sans-serif" font-weight="bold" font-size="29.82" fill="#000" stroke="#000" stroke-width="0.39" stroke-linejoin="round">Relative</text>
<text transform="translate(669.79,323.10) rotate(-90) scale(0.8745,1.0)" font-family="'Liberation Sans', sans-serif" font-weight="bold" font-size="29.83" fill="#000" stroke="#000" stroke-width="0.38" stroke-linejoin="round">protein levels</text>
<text transform="translate(843.64,117.08) scale(0.9426,1.0)" font-family="'Liberation Sans', sans-serif" font-weight="bold" font-size="26.67" fill="#000" stroke="#000" stroke-width="0.08" stroke-linejoin="round">SOD1</text>
<text transform="translate(705.56,148.60) scale(1.0379,1.0)" font-family="'Liberation Sans', sans-serif" font-weight="bold" font-size="22.19" fill="#000" stroke="#fff" stroke-width="0.17">1.5</text>
<text transform="translate(726.91,218.93) scale(0.8546,1.0)" font-family="'Liberation Sans', sans-serif" font-weight="bold" font-size="21.98" fill="#000" stroke="#000" stroke-width="0.25" stroke-linejoin="round">1</text>
<text transform="translate(706.30,289.40) scale(1.0136,1.0)" font-family="'Liberation Sans', sans-serif" font-weight="bold" font-size="22.19" fill="#000" stroke="#fff" stroke-width="0.17">0.5</text>
<text transform="translate(724.97,359.80) scale(1.0515,1.0)" font-family="'Liberation Sans', sans-serif" font-weight="bold" font-size="22.19" fill="#000" stroke="#fff" stroke-width="0.17">0</text>
<text transform="translate(805.23,389.15) scale(0.8384,1.0)" font-family="'Liberation Sans', sans-serif" font-weight="bold" font-size="27.32" fill="#000" stroke="#000" stroke-width="0.49" stroke-linejoin="round">NC</text>
<text transform="translate(890.91,389.18) scale(0.8559,1.0)" font-family="'Liberation Sans', sans-serif" font-weight="bold" font-size="27.38" fill="#000" stroke="#000" stroke-width="0.42" stroke-linejoin="round">siPPARα</text>
<text transform="translate(1166.14,118.28) scale(0.9426,1.0)" font-family="'Liberation Sans', sans-serif" font-weight="bold" font-size="26.67" fill="#000" stroke="#000" stroke-width="0.08" stroke-linejoin="round">SOD2</text>
<text transform="translate(1045.86,147.60) scale(1.0379,1.0)" font-family="'Liberation Sans', sans-serif" font-weight="bold" font-size="22.19" fill="#000" stroke="#fff" stroke-width="0.17">1.5</text>
<text transform="translate(1067.21,218.33) scale(0.8546,1.0)" font-family="'Liberation Sans', sans-serif" font-weight="bold" font-size="21.98" fill="#000" stroke="#000" stroke-width="0.25" stroke-linejoin="round">1</text>
<text transform="translate(1046.60,290.00) scale(1.0136,1.0)" font-family="'Liberation Sans', sans-serif" font-weight="bold" font-size="22.19" fill="#000" stroke="#fff" stroke-width="0.17">0.5</text>
<text transform="translate(1065.27,361.30) scale(1.0515,1.0)" font-family="'Liberation Sans', sans-serif" font-weight="bold" font-size="22.19" fill="#000" stroke="#fff" stroke-width="0.17">0</text>
<text transform="translate(1140.66,388.98) scale(0.8620,1.0)" font-family="'Liberation Sans', sans-serif" font-weight="bold" font-size="27.40" fill="#000" stroke="#000" stroke-width="0.39" stroke-linejoin="round">NC</text>
<text transform="translate(1220.32,388.97) scale(0.8526,1.0)" font-family="'Liberation Sans', sans-serif" font-weight="bold" font-size="27.37" fill="#000" stroke="#000" stroke-width="0.43" stroke-linejoin="round">siPPARα</text>
<text transform="translate(1493.77,115.87) scale(0.9329,1.0)" font-family="'Liberation Sans', sans-serif" font-weight="bold" font-size="26.64" fill="#000" stroke="#000" stroke-width="0.11" stroke-linejoin="round">GPX1</text>
<text transform="translate(1339.06,147.60) scale(1.0379,1.0)" font-family="'Liberation Sans', sans-serif" font-weight="bold" font-size="22.19" fill="#000" stroke="#fff" stroke-width="0.17">1.5</text>
<text transform="translate(1360.41,217.53) scale(0.8546,1.0)" font-family="'Liberation Sans', sans-serif" font-weight="bold" font-size="21.98" fill="#000" stroke="#000" stroke-width="0.25" stroke-linejoin="round">1</text>
<text transform="translate(1339.80,287.60) scale(1.0136,1.0)" font-family="'Liberation Sans', sans-serif" font-weight="bold" font-size="22.19" fill="#000" stroke="#fff" stroke-width="0.17">0.5</text>
<text transform="translate(1358.47,357.60) scale(1.0515,1.0)" font-family="'Liberation Sans', sans-serif" font-weight="bold" font-size="22.19" fill="#000" stroke="#fff" stroke-width="0.17">0</text>
<text transform="translate(1427.62,386.10) scale(0.8751,1.0)" font-family="'Liberation Sans', sans-serif" font-weight="bold" font-size="27.44" fill="#000" stroke="#000" stroke-width="0.34" stroke-linejoin="round">NC</text>
<text transform="translate(1501.01,386.08) scale(0.8567,1.0)" font-family="'Liberation Sans', sans-serif" font-weight="bold" font-size="27.38" fill="#000" stroke="#000" stroke-width="0.41" stroke-linejoin="round">siPPARα</text>
<text transform="translate(1727.83,115.40) scale(1.0009,1.0)" font-family="'Liberation Sans', sans-serif" font-weight="bold" font-size="26.74" fill="#000" stroke="#fff" stroke-width="0.10">NQO1</text>
<text transform="translate(1635.26,149.30) scale(1.0379,1.0)" font-family="'Liberation Sans', sans-serif" font-weight="bold" font-size="22.19" fill="#000" stroke="#fff" stroke-width="0.17">1.5</text>
<text transform="translate(1656.61,217.93) scale(0.8546,1.0)" font-family="'Liberation Sans', sans-serif" font-weight="bold" font-size="21.98" fill="#000" stroke="#000" stroke-width="0.25" stroke-linejoin="round">1</text>
<text transform="translate(1636.00,288.30) scale(1.0136,1.0)" font-family="'Liberation Sans', sans-serif" font-weight="bold" font-size="22.19" fill="#000" stroke="#fff" stroke-width="0.17">0.5</text>
<text transform="translate(1654.67,357.00) scale(1.0515,1.0)" font-family="'Liberation Sans', sans-serif" font-weight="bold" font-size="22.19" fill="#000" stroke="#fff" stroke-width="0.17">0</text>
<text transform="translate(1732.18,384.47) scale(0.8541,1.0)" font-family="'Liberation Sans', sans-serif" font-weight="bold" font-size="27.37" fill="#000" stroke="#000" stroke-width="0.42" stroke-linejoin="round">NC</text>
<text transform="translate(1798.32,384.47) scale(0.8526,1.0)" font-family="'Liberation Sans', sans-serif" font-weight="bold" font-size="27.37" fill="#000" stroke="#000" stroke-width="0.43" stroke-linejoin="round">siPPARα</text>
<text transform="translate(333.16,580.32) scale(0.8900,1.0)" font-family="'Liberation Sans', sans-serif" font-weight="bold" font-size="29.77" fill="#000" stroke="#000" stroke-width="0.61" stroke-linejoin="round">NC</text>
<text transform="translate(446.24,580.44) scale(0.9739,1.0)" font-family="'Liberation Sans', sans-serif" font-weight="bold" font-size="30.12" fill="#000" stroke="#000" stroke-width="0.20" stroke-linejoin="round">Irbe</text>
<text transform="translate(71.59,634.62) scale(0.9605,1.0)" font-family="'Liberation Sans', sans-serif" font-weight="bold" font-size="33.49" fill="#000" stroke="#000" stroke-width="0.25" stroke-linejoin="round">SOD1 (16kDa)</text>
<text transform="translate(72.09,696.92) scale(0.9591,1.0)" font-family="'Liberation Sans', sans-serif" font-weight="bold" font-size="33.49" fill="#000" stroke="#000" stroke-width="0.25" stroke-linejoin="round">SOD2 (22kDa)</text>
<text transform="translate(74.59,760.92) scale(0.9560,1.0)" font-family="'Liberation Sans', sans-serif" font-weight="bold" font-size="33.49" fill="#000" stroke="#000" stroke-width="0.25" stroke-linejoin="round">GPx1 (23kDa)</text>
<text transform="translate(62.03,824.42) scale(0.9859,1.0)" font-family="'Liberation Sans', sans-serif" font-weight="bold" font-size="33.49" fill="#000" stroke="#000" stroke-width="0.25" stroke-linejoin="round">NQO1 (31kDa)</text>
<text transform="translate(55.55,893.92) scale(0.9790,1.0)" font-family="'Liberation Sans', sans-serif" font-weight="bold" font-size="33.49" fill="#000" stroke="#000" stroke-width="0.25" stroke-linejoin="round">β-actin (42kDa)</text>
<text transform="translate(630.87,819.46) rotate(-90) scale(0.8622,1.0)" font-family="'Liberation Sans', sans-serif" font-weight="bold" font-size="29.79" fill="#000" stroke="#000" stroke-width="0.43" stroke-linejoin="round">Relative</text>
<text transform="translate(668.39,851.51) rotate(-90) scale(0.8779,1.0)" font-family="'Liberation Sans', sans-serif" font-weight="bold" font-size="29.84" fill="#000" stroke="#000" stroke-width="0.36" stroke-linejoin="round">protein levels</text>
<text transform="translate(855.65,617.07) scale(0.9360,1.0)" font-family="'Liberation Sans', sans-serif" font-weight="bold" font-size="26.65" fill="#000" stroke="#000" stroke-width="0.10" stroke-linejoin="round">SOD1</text>
<text transform="translate(728.73,659.20) scale(0.9992,1.0)" font-family="'Liberation Sans', sans-serif" font-weight="bold" font-size="21.62" fill="#000" stroke="#fff" stroke-width="0.17">2</text>
<text transform="translate(709.28,713.90) scale(1.0475,1.0)" font-family="'Liberation Sans', sans-serif" font-weight="bold" font-size="21.62" fill="#000" stroke="#fff" stroke-width="0.17">1.5</text>
<text transform="translate(730.07,768.15) scale(0.8815,1.0)" font-family="'Liberation Sans', sans-serif" font-weight="bold" font-size="21.49" fill="#000" stroke="#000" stroke-width="0.15" stroke-linejoin="round">1</text>
<text transform="translate(710.01,822.90) scale(1.0230,1.0)" font-family="'Liberation Sans', sans-serif" font-weight="bold" font-size="21.62" fill="#000" stroke="#fff" stroke-width="0.17">0.5</text>
<text transform="translate(728.49,877.10) scale(1.0505,1.0)" font-family="'Liberation Sans', sans-serif" font-weight="bold" font-size="21.62" fill="#000" stroke="#fff" stroke-width="0.17">0</text>
<text transform="translate(811.24,909.87) scale(0.9225,1.0)" font-family="'Liberation Sans', sans-serif" font-weight="bold" font-size="22.52" fill="#000" stroke="#000" stroke-width="0.11" stroke-linejoin="round">NC</text>
<text transform="translate(925.89,909.90) scale(0.9950,1.0)" font-family="'Liberation Sans', sans-serif" font-weight="bold" font-size="22.61" fill="#000" stroke="#fff" stroke-width="0.10">Irbe</text>
<text transform="translate(1147.14,614.68) scale(0.9426,1.0)" font-family="'Liberation Sans', sans-serif" font-weight="bold" font-size="26.67" fill="#000" stroke="#000" stroke-width="0.08" stroke-linejoin="round">SOD2</text>
<text transform="translate(1057.12,663.50) scale(0.9992,1.0)" font-family="'Liberation Sans', sans-serif" font-weight="bold" font-size="21.62" fill="#000" stroke="#fff" stroke-width="0.17">2</text>
<text transform="translate(1037.68,717.50) scale(1.0475,1.0)" font-family="'Liberation Sans', sans-serif" font-weight="bold" font-size="21.62" fill="#000" stroke="#fff" stroke-width="0.17">1.5</text>
<text transform="translate(1058.47,770.75) scale(0.8815,1.0)" font-family="'Liberation Sans', sans-serif" font-weight="bold" font-size="21.49" fill="#000" stroke="#000" stroke-width="0.15" stroke-linejoin="round">1</text>
<text transform="translate(1038.41,824.60) scale(1.0230,1.0)" font-family="'Liberation Sans', sans-serif" font-weight="bold" font-size="21.62" fill="#000" stroke="#fff" stroke-width="0.17">0.5</text>
<text transform="translate(1056.89,877.90) scale(1.0505,1.0)" font-family="'Liberation Sans', sans-serif" font-weight="bold" font-size="21.62" fill="#000" stroke="#fff" stroke-width="0.17">0</text>
<text transform="translate(1137.18,910.66) scale(0.9098,1.0)" font-family="'Liberation Sans', sans-serif" font-weight="bold" font-size="22.49" fill="#000" stroke="#000" stroke-width="0.15" stroke-linejoin="round">NC</text>
<text transform="translate(1245.98,910.70) scale(1.0026,1.0)" font-family="'Liberation Sans', sans-serif" font-weight="bold" font-size="22.61" fill="#000" stroke="#fff" stroke-width="0.10">Irbe</text>
<text transform="translate(1447.74,617.08) scale(0.9450,1.0)" font-family="'Liberation Sans', sans-serif" font-weight="bold" font-size="26.68" fill="#000" stroke="#000" stroke-width="0.07" stroke-linejoin="round">GPX1</text>
<text transform="translate(1358.53,667.10) scale(0.9992,1.0)" font-family="'Liberation Sans', sans-serif" font-weight="bold" font-size="21.62" fill="#000" stroke="#fff" stroke-width="0.17">2</text>
<text transform="translate(1339.08,720.30) scale(1.0475,1.0)" font-family="'Liberation Sans', sans-serif" font-weight="bold" font-size="21.62" fill="#000" stroke="#fff" stroke-width="0.17">1.5</text>
<text transform="translate(1359.87,771.95) scale(0.8815,1.0)" font-family="'Liberation Sans', sans-serif" font-weight="bold" font-size="21.49" fill="#000" stroke="#000" stroke-width="0.15" stroke-linejoin="round">1</text>
<text transform="translate(1339.81,824.60) scale(1.0230,1.0)" font-family="'Liberation Sans', sans-serif" font-weight="bold" font-size="21.62" fill="#000" stroke="#fff" stroke-width="0.17">0.5</text>
<text transform="translate(1358.29,877.90) scale(1.0505,1.0)" font-family="'Liberation Sans', sans-serif" font-weight="bold" font-size="21.62" fill="#000" stroke="#fff" stroke-width="0.17">0</text>
<text transform="translate(1434.54,909.87) scale(0.9225,1.0)" font-family="'Liberation Sans', sans-serif" font-weight="bold" font-size="22.52" fill="#000" stroke="#000" stroke-width="0.11" stroke-linejoin="round">NC</text>
<text transform="translate(1536.20,909.90) scale(0.9900,1.0)" font-family="'Liberation Sans', sans-serif" font-weight="bold" font-size="22.61" fill="#000" stroke="#fff" stroke-width="0.10">Irbe</text>
<text transform="translate(1729.02,611.90) scale(1.0063,1.0)" font-family="'Liberation Sans', sans-serif" font-weight="bold" font-size="26.74" fill="#000" stroke="#fff" stroke-width="0.10">NQO1</text>
<text transform="translate(1654.03,661.60) scale(0.9992,1.0)" font-family="'Liberation Sans', sans-serif" font-weight="bold" font-size="21.62" fill="#000" stroke="#fff" stroke-width="0.17">2</text>
<text transform="translate(1634.58,715.10) scale(1.0475,1.0)" font-family="'Liberation Sans', sans-serif" font-weight="bold" font-size="21.62" fill="#000" stroke="#fff" stroke-width="0.17">1.5</text>
<text transform="translate(1655.37,768.15) scale(0.8815,1.0)" font-family="'Liberation Sans', sans-serif" font-weight="bold" font-size="21.49" fill="#000" stroke="#000" stroke-width="0.15" stroke-linejoin="round">1</text>
<text transform="translate(1635.31,822.20) scale(1.0230,1.0)" font-family="'Liberation Sans', sans-serif" font-weight="bold" font-size="21.62" fill="#000" stroke="#fff" stroke-width="0.17">0.5</text>
<text transform="translate(1653.79,875.50) scale(1.0505,1.0)" font-family="'Liberation Sans', sans-serif" font-weight="bold" font-size="21.62" fill="#000" stroke="#fff" stroke-width="0.17">0</text>
<text transform="translate(1725.73,907.57) scale(0.9257,1.0)" font-family="'Liberation Sans', sans-serif" font-weight="bold" font-size="22.53" fill="#000" stroke="#000" stroke-width="0.10" stroke-linejoin="round">NC</text>
<text transform="translate(1819.60,907.60) scale(0.9925,1.0)" font-family="'Liberation Sans', sans-serif" font-weight="bold" font-size="22.61" fill="#000" stroke="#fff" stroke-width="0.10">Irbe</text>
<text transform="translate(188.84,1117.44) scale(0.9628,1.0)" font-family="'Liberation Sans', sans-serif" font-weight="bold" font-size="28.84" fill="#000" stroke="#000" stroke-width="0.20" stroke-linejoin="round">Relative Fold change</text>
<text transform="translate(204.64,1156.94) scale(0.9634,1.0)" font-family="'Liberation Sans', sans-serif" font-weight="bold" font-size="28.84" fill="#000" stroke="#000" stroke-width="0.20" stroke-linejoin="round">in ROS production</text>
<text transform="translate(126.83,1244.32) scale(0.9634,1.0)" font-family="'Liberation Sans', sans-serif" font-weight="normal" font-size="27.66" fill="#111" stroke="#000" stroke-width="0.25" stroke-linejoin="round">1.5</text>
<text transform="translate(152.19,1361.32) scale(0.7420,1.0)" font-family="'Liberation Sans', sans-serif" font-weight="normal" font-size="27.66" fill="#111" stroke="#000" stroke-width="0.25" stroke-linejoin="round">1</text>
<text transform="translate(126.97,1477.52) scale(0.9597,1.0)" font-family="'Liberation Sans', sans-serif" font-weight="normal" font-size="27.66" fill="#111" stroke="#000" stroke-width="0.25" stroke-linejoin="round">0.5</text>
<text transform="translate(148.98,1593.92) scale(0.9399,1.0)" font-family="'Liberation Sans', sans-serif" font-weight="normal" font-size="27.66" fill="#111" stroke="#000" stroke-width="0.25" stroke-linejoin="round">0</text>
<text transform="translate(239.14,1644.53) scale(0.8962,1.0)" font-family="'Liberation Sans', sans-serif" font-weight="bold" font-size="33.35" fill="#000" stroke="#000" stroke-width="0.58" stroke-linejoin="round">NC</text>
<text transform="translate(365.18,1644.65) scale(0.9861,1.0)" font-family="'Liberation Sans', sans-serif" font-weight="bold" font-size="33.72" fill="#000" stroke="#000" stroke-width="0.15" stroke-linejoin="round">Irbe</text>
<text transform="translate(1165.24,1136.63) scale(0.8990,1.0)" font-family="'Liberation Sans', sans-serif" font-weight="bold" font-size="29.66" fill="#000" stroke="#000" stroke-width="0.57" stroke-linejoin="round">NC</text>
<text transform="translate(1281.56,1136.63) scale(0.9041,1.0)" font-family="'Liberation Sans', sans-serif" font-weight="bold" font-size="29.68" fill="#000" stroke="#000" stroke-width="0.55" stroke-linejoin="round">siPPARα</text>
<text transform="translate(849.59,1205.83) scale(0.9943,1.0)" font-family="'Liberation Sans', sans-serif" font-weight="bold" font-size="32.50" fill="#000" stroke="#000" stroke-width="0.25" stroke-linejoin="round">ARID1A (242kDa)</text>
<text transform="translate(862.64,1284.83) scale(1.0151,1.0)" font-family="'Liberation Sans', sans-serif" font-weight="bold" font-size="32.50" fill="#000" stroke="#000" stroke-width="0.25" stroke-linejoin="round">β-actin (42kDa)</text>
<text transform="translate(1163.36,1413.62) scale(0.8942,1.0)" font-family="'Liberation Sans', sans-serif" font-weight="bold" font-size="29.65" fill="#000" stroke="#000" stroke-width="0.59" stroke-linejoin="round">NC</text>
<text transform="translate(1305.04,1413.74) scale(0.9785,1.0)" font-family="'Liberation Sans', sans-serif" font-weight="bold" font-size="29.98" fill="#000" stroke="#000" stroke-width="0.20" stroke-linejoin="round">Irbe</text>
<text transform="translate(846.49,1474.83) scale(0.9958,1.0)" font-family="'Liberation Sans', sans-serif" font-weight="bold" font-size="32.50" fill="#000" stroke="#000" stroke-width="0.25" stroke-linejoin="round">ARID1A (242kDa)</text>
<text transform="translate(860.64,1566.33) scale(1.0133,1.0)" font-family="'Liberation Sans', sans-serif" font-weight="bold" font-size="32.50" fill="#000" stroke="#000" stroke-width="0.25" stroke-linejoin="round">β-actin (42kDa)</text>
<text transform="translate(1460.32,1268.73) rotate(-90) scale(0.8997,1.0)" font-family="'Liberation Sans', sans-serif" font-weight="bold" font-size="28.79" fill="#000" stroke="#000" stroke-width="0.26" stroke-linejoin="round">Relative</text>
<text transform="translate(1497.03,1302.34) rotate(-90) scale(0.9045,1.0)" font-family="'Liberation Sans', sans-serif" font-weight="bold" font-size="28.81" fill="#000" stroke="#000" stroke-width="0.24" stroke-linejoin="round">protein levels</text>
<text transform="translate(1649.55,1100.05) scale(0.9252,1.0)" font-family="'Liberation Sans', sans-serif" font-weight="bold" font-size="27.75" fill="#000" stroke="#000" stroke-width="0.15" stroke-linejoin="round">ARID1A</text>
<text transform="translate(1512.88,1133.90) scale(1.0475,1.0)" font-family="'Liberation Sans', sans-serif" font-weight="bold" font-size="21.62" fill="#000" stroke="#fff" stroke-width="0.17">1.5</text>
<text transform="translate(1533.67,1199.05) scale(0.8815,1.0)" font-family="'Liberation Sans', sans-serif" font-weight="bold" font-size="21.49" fill="#000" stroke="#000" stroke-width="0.15" stroke-linejoin="round">1</text>
<text transform="translate(1513.61,1263.50) scale(1.0230,1.0)" font-family="'Liberation Sans', sans-serif" font-weight="bold" font-size="21.62" fill="#000" stroke="#fff" stroke-width="0.17">0.5</text>
<text transform="translate(1532.09,1328.40) scale(1.0505,1.0)" font-family="'Liberation Sans', sans-serif" font-weight="bold" font-size="21.62" fill="#000" stroke="#fff" stroke-width="0.17">0</text>
<text transform="translate(1618.37,1361.37) scale(0.9205,1.0)" font-family="'Liberation Sans', sans-serif" font-weight="bold" font-size="22.09" fill="#000" stroke="#000" stroke-width="0.11" stroke-linejoin="round">NC</text>
<text transform="translate(1725.11,1361.36) scale(0.9165,1.0)" font-family="'Liberation Sans', sans-serif" font-weight="bold" font-size="22.08" fill="#000" stroke="#000" stroke-width="0.13" stroke-linejoin="round">siPPARα</text>
<text transform="translate(1462.32,1568.83) rotate(-90) scale(0.8997,1.0)" font-family="'Liberation Sans', sans-serif" font-weight="bold" font-size="28.79" fill="#000" stroke="#000" stroke-width="0.26" stroke-linejoin="round">Relative</text>
<text transform="translate(1498.23,1599.95) rotate(-90) scale(0.9070,1.0)" font-family="'Liberation Sans', sans-serif" font-weight="bold" font-size="28.82" fill="#000" stroke="#000" stroke-width="0.23" stroke-linejoin="round">protein levels</text>
<text transform="translate(1515.38,1425.40) scale(1.0475,1.0)" font-family="'Liberation Sans', sans-serif" font-weight="bold" font-size="21.62" fill="#000" stroke="#fff" stroke-width="0.17">1.5</text>
<text transform="translate(1536.17,1489.75) scale(0.8815,1.0)" font-family="'Liberation Sans', sans-serif" font-weight="bold" font-size="21.49" fill="#000" stroke="#000" stroke-width="0.15" stroke-linejoin="round">1</text>
<text transform="translate(1516.11,1554.00) scale(1.0230,1.0)" font-family="'Liberation Sans', sans-serif" font-weight="bold" font-size="21.62" fill="#000" stroke="#fff" stroke-width="0.17">0.5</text>
<text transform="translate(1534.59,1617.90) scale(1.0505,1.0)" font-family="'Liberation Sans', sans-serif" font-weight="bold" font-size="21.62" fill="#000" stroke="#fff" stroke-width="0.17">0</text>
<text transform="translate(1619.14,1649.58) scale(0.9334,1.0)" font-family="'Liberation Sans', sans-serif" font-weight="bold" font-size="22.12" fill="#000" stroke="#000" stroke-width="0.08" stroke-linejoin="round">NC</text>
<text transform="translate(1736.90,1649.60) scale(1.0116,1.0)" font-family="'Liberation Sans', sans-serif" font-weight="bold" font-size="22.19" fill="#000" stroke="#fff" stroke-width="0.10">Irbe</text>
</svg>
</body></html>
